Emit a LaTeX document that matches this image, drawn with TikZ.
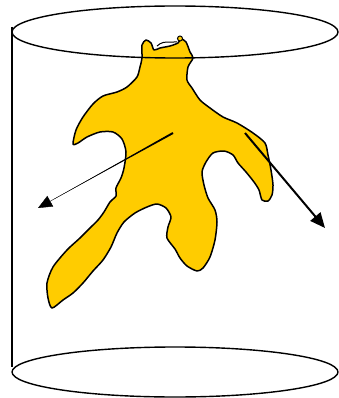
\documentclass[tikz,border=0pt]{standalone}
\usepackage{tikz}
\usetikzlibrary{arrows.meta, calc}
\definecolor{blobfill}{HTML}{FFCC00}

\begin{document}
\begin{tikzpicture}[
    x=1pt, y=-1pt,
    rim/.style={draw, line width=1.4pt},
    blob/.style={draw, line width=1.5pt, fill=blobfill, line join=round},
    thickarrow/.style={line width=2pt, -{Triangle[length=15pt, width=13pt]}},
    thinarrow/.style={line width=0.4pt, -{Triangle[length=14pt, width=12pt]}}
  ]
  \useasboundingbox (0,0) rectangle (339,398);

  % the shape inside the cylinder
  \draw[blob] plot[smooth cycle, tension=0.45] coordinates {
    (142,58) (142,45) (146,40) (151,43) (154,50) (160,48) (170,46) (178,43)
    (181,39) (186,42) (190,52) (193,58) (188,67) (187,80) (192,88) (200,100)
    (210,108) (223,117) (237,123) (253,133) (265,143) (268,155) (271,170)
    (273,185) (272,195) (268,201) (262,200) (259,190) (254,182) (246,172)
    (238,163) (233,155) (224,151) (213,153) (206,162) (202,172) (204,185)
    (208,198) (215,210) (217,222) (215,240) (210,257) (203,268) (197,271)
    (187,266) (180,258) (175,249) (167,238) (168,227) (171,217) (166,208)
    (157,204) (147,207) (135,213) (124,222) (117,233) (111,247) (103,260)
    (93,271) (83,283) (73,293) (63,300) (52,308) (48,298) (47,283) (53,267)
    (67,250) (80,238) (90,228) (98,220) (104,212) (110,202) (116,196)
    (116,188) (121,178) (124,168) (126,152) (122,139) (113,132) (100,132)
    (87,137) (78,143) (73,144) (76,130) (83,117) (93,104) (103,96) (117,92)
    (127,87) (137,77) (140,67)};
  \draw[line width=1pt] (157,46) .. controls (162,42) .. (177,42);
  \draw[line width=1pt, fill=blobfill] (180,38.5) circle[radius=2.5pt];

  % cylinder
  \node[draw=none, inner sep=0pt] (top) at (175,32) {};
  \node[draw=none, inner sep=0pt] (bottom) at (175,372) {};
  \draw[rim] (top) ellipse[x radius=163pt, y radius=26pt];
  \draw[rim] (bottom) ellipse[x radius=163pt, y radius=25pt];
  \coordinate (lefttop) at (12,27);
  \coordinate (leftbot) at (12,367);
  \draw[rim] (lefttop) -- (leftbot);

  % arrows
  \coordinate (ls) at (173,133);
  \coordinate (lt) at (38,208);
  \fill ($(ls)!1pt!90:(lt)$) -- ($(ls)!1pt!-90:(lt)$) -- ($(ls)!0.88!(lt)$) -- cycle;
  \draw[thinarrow] (ls) -- (lt);

  \coordinate (rs) at (245,133);
  \coordinate (rt) at (325,228);
  \draw[thickarrow] (rs) -- (rt);
\end{tikzpicture}
\end{document}
